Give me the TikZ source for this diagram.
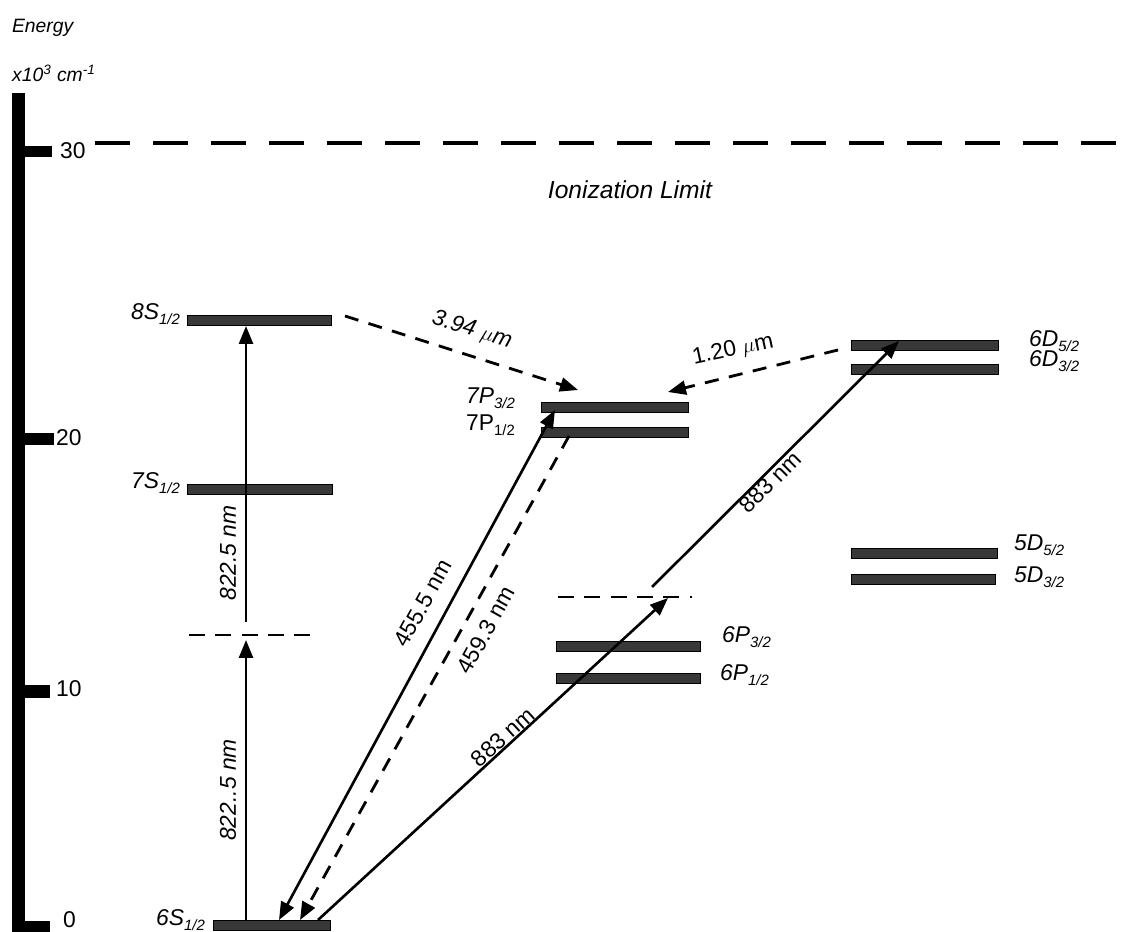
\documentclass[tikz,border=0pt]{standalone}
\usepackage{fontspec}
\setmainfont{Liberation Sans}
\usepackage{tikz}
\usetikzlibrary{arrows.meta, positioning, calc}

\newcommand{\lsub}[1]{\raisebox{-0.45ex}{\fontsize{8.5}{9}\selectfont #1}}

\begin{document}
\begin{tikzpicture}[x=0.02cm, y=-0.02cm,
    level/.style={draw=black, fill=black!78, line width=0.3pt, minimum height=0.2cm, inner sep=0pt},
    virt/.style={line width=1.4pt, dash pattern=on 9pt off 6pt},
    lbl/.style={font=\fontsize{13}{15}\selectfont\itshape, inner sep=1pt},
    ulbl/.style={font=\fontsize{13}{15}\selectfont, inner sep=1pt},
    arrow/.style={-{Triangle[length=0.36cm, width=0.28cm]}, line width=1.5pt},
    darrow/.style={{Triangle[length=0.36cm, width=0.28cm]}-{Triangle[length=0.36cm, width=0.28cm]}, line width=1.5pt},
    dasharrow/.style={arrow, dash pattern=on 8pt off 6pt, line width=1.6pt}
]
    \useasboundingbox (0,0) rectangle (1133,932);

    % Energy axis
    \node[lbl, font=\fontsize{11}{12}\selectfont\itshape, anchor=west] (etitle) at (10,28) {Energy};
    \node[lbl, font=\fontsize{11}{12}\selectfont\itshape, anchor=west] (eunit) at (10,73) {x10\textsuperscript{3} cm\textsuperscript{-1}};
    \fill (12,93) rectangle (25,932);
    \fill (12,146) rectangle (52,157);
    \fill (12,433) rectangle (54,445);
    \fill (12,685) rectangle (50,698);
    \fill (12,921) rectangle (50,932);
    \node[ulbl, anchor=west] (t30) at (58,151) {30};
    \node[ulbl, anchor=west] (t20) at (54,438) {20};
    \node[ulbl, anchor=west] (t10) at (54,689) {10};
    \node[ulbl, anchor=west] (t0) at (61,920) {0};

    % Ionization limit
    \coordinate (ion1) at (95,143);
    \coordinate (ion2) at (1133,143);
    \draw[line width=2pt, dash pattern=on 20pt off 13pt] (ion1) -- (ion2);
    \node[lbl, font=\fontsize{14}{16}\selectfont\itshape] (ion) at (630,190) {Ionization Limit};

    % S levels
    \node[level, minimum width=117*0.02cm] (s6) at (271.5,925) {};
    \node[level, minimum width=145*0.02cm] (s7) at (259.5,489) {};
    \node[level, minimum width=144*0.02cm] (s8) at (259,320) {};
    \node[lbl, anchor=east] (s6l) at (207,920) {6S\lsub{1/2}};
    \node[lbl, anchor=east] (s7l) at (182,483) {7S\lsub{1/2}};
    \node[lbl, anchor=east] (s8l) at (182,314) {8S\lsub{1/2}};

    % P levels
    \node[level, minimum width=147*0.02cm] (p73) at (614.5,407) {};
    \node[level, minimum width=147*0.02cm] (p71) at (614.5,432) {};
    \node[lbl, anchor=east] (p73l) at (517,398) {7P\lsub{3/2}};
    \node[ulbl, anchor=east] (p71l) at (517,425) {7P\lsub{\upshape 1/2}};
    \node[level, minimum width=144*0.02cm] (p63) at (628,646) {};
    \node[level, minimum width=144*0.02cm] (p61) at (628,678) {};
    \node[lbl, anchor=west] (p63l) at (720,637) {6P\lsub{3/2}};
    \node[lbl, anchor=west] (p61l) at (718,675) {6P\lsub{1/2}};

    % D levels
    \node[level, minimum width=147*0.02cm] (d65) at (924.5,345) {};
    \node[level, minimum width=147*0.02cm] (d63) at (924.5,369) {};
    \node[lbl, anchor=west] (d65l) at (1027,341) {6D\lsub{5/2}};
    \node[lbl, anchor=west] (d63l) at (1027,361) {6D\lsub{3/2}};
    \node[level, minimum width=146*0.02cm] (d55) at (924,553) {};
    \node[level, minimum width=144*0.02cm] (d53) at (923,579) {};
    \node[lbl, anchor=west] (d55l) at (1012,545) {5D\lsub{5/2}};
    \node[lbl, anchor=west] (d53l) at (1012,577) {5D\lsub{3/2}};

    % Virtual levels
    \coordinate (va) at (189,635);
    \coordinate (vb) at (320,635);
    \coordinate (vc) at (558,597);
    \coordinate (vd) at (692,597);
    \draw[virt] (va) -- (vb);
    \draw[virt] (vc) -- (vd);

    % Two-photon 822.5 nm
    \coordinate (a1) at (246,920);
    \coordinate (a2) at (246,640);
    \coordinate (a3) at (246,622);
    \coordinate (a4) at (246,326);
    \draw[arrow] (a1) -- (a2);
    \draw[arrow] (a3) -- (a4);
    \node[lbl, rotate=90] (l822a) at (228,790) {822..5 nm};
    \node[lbl, rotate=90] (l822b) at (228,553) {822.5 nm};

    % 455.5 nm and 459.3 nm
    \coordinate (b1) at (279,920);
    \coordinate (b2) at (555,410);
    \coordinate (c1) at (300,920);
    \coordinate (c2) at (569,436);
    \draw[darrow] (b1) -- (b2);
    \draw[dasharrow] (c2) -- (c1);
    \node[ulbl, rotate=61] (l455) at (423,603) {455.5 nm};
    \node[ulbl, rotate=61] (l459) at (486,630) {459.3 nm};

    % Two-photon 883 nm
    \coordinate (e1) at (318,920);
    \coordinate (e2) at (668,598);
    \coordinate (e3) at (652,587);
    \coordinate (e4) at (899,341);
    \draw[arrow] (e1) -- (e2);
    \draw[arrow] (e3) -- (e4);
    \node[ulbl, rotate=42] (l883a) at (503,737) {883 nm};
    \node[ulbl, rotate=45] (l883b) at (770,482) {883 nm};

    % Infrared decays
    \coordinate (f1) at (345,316);
    \coordinate (f2) at (578,390);
    \coordinate (g1) at (838,350);
    \coordinate (g2) at (668,392);
    \draw[dasharrow] (f1) -- (f2);
    \draw[dasharrow] (g1) -- (g2);
    \node[lbl, rotate=-17] (l394) at (472,330) {3.94 $\mu$m};
    \node[ulbl, rotate=12] (l120) at (733,350) {1.20 $\mu$m};
\end{tikzpicture}
\end{document}
